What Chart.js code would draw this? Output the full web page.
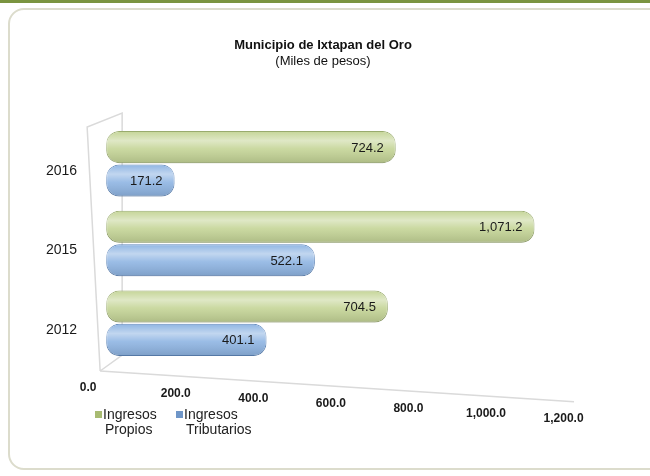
<!DOCTYPE html>
<html>
<head>
<meta charset="utf-8">
<script src="https://cdn.jsdelivr.net/npm/chart.js@4.4.1/dist/chart.umd.min.js"></script>
<style>
  body { margin: 0; background: #fff; font-family: "Liberation Sans", Arial, sans-serif; }
  #wrap { position: relative; width: 650px; height: 476px; overflow: hidden; }
  #band { position: absolute; left: 0; top: 0; width: 650px; height: 3px; background: #7a9440; }
  #box { position: absolute; left: 8px; top: 8px; width: 660px; height: 458px; border: 2px solid #dcdccc; border-radius: 16px; }
  canvas { position: absolute; left: 0; top: 0; }
  .ttl { position: absolute; left: 0; width: 646px; text-align: center; font-size: 13px; color: #111; }
  .leg { position: absolute; top: 407px; font-size: 14px; color: #222; line-height: 15px; }
  .leg i { display: inline-block; width: 7px; height: 7px; margin-right: 1px; vertical-align: 1px; }
  .leg span { display: block; padding-left: 10px; }
</style>
</head>
<body>
<div id="wrap">
  <div id="band"></div>
  <div id="box"></div>
  <canvas id="chart" width="650" height="476"></canvas>
  <div class="ttl" style="top:37px;font-weight:bold">Municipio de Ixtapan del Oro</div>
  <div class="ttl" style="top:53px">(Miles de pesos)</div>
  <div class="leg" style="left:95px"><i style="background:#a8bb72"></i>Ingresos<span>Propios</span></div>
  <div class="leg" style="left:176px"><i style="background:#6f96c8"></i>Ingresos<span>Tributarios</span></div>
</div>
<script>
// data
var years = ['2016', '2015', '2012'];
var propios = [724.2, 1071.2, 704.5];
var tributarios = [171.2, 522.1, 401.1];
var xTicks = [0, 200, 400, 600, 800, 1000, 1200];

function fmt(v) {
    return v.toLocaleString('en-US', { minimumFractionDigits: 1, maximumFractionDigits: 1 });
}

var SLOPE = 0.065;

// shine on the tubes + value labels + 3d-ish frame
var tubePlugin = {
    id: 'tube',
    beforeDatasetsDraw: function(chart) {
        var ctx = chart.ctx;
        var a = chart.chartArea;
        ctx.save();
        ctx.strokeStyle = '#dadada';
        ctx.lineWidth = 1.5;
        ctx.beginPath();
        // front left edge + top edge + back edge
        ctx.moveTo(a.left - 6, a.bottom + 8);
        ctx.lineTo(a.left - 19, a.top + 3);
        ctx.lineTo(a.left + 16, a.top - 11);
        ctx.lineTo(a.left + 16, a.bottom - 8);
        ctx.lineTo(a.left - 6, a.bottom + 8);
        ctx.stroke();
        ctx.restore();
    },
    afterDatasetsDraw: function(chart) {
        var ctx = chart.ctx;
        chart.data.datasets.forEach(function(ds, di) {
            chart.getDatasetMeta(di).data.forEach(function(bar, i) {
                var top = bar.y - bar.height / 2;
                var left = bar.base;
                var w = bar.x - bar.base;
                var h = bar.height;
                var g = ctx.createLinearGradient(0, top, 0, top + h);
                g.addColorStop(0, 'rgba(255,255,255,0)');
                g.addColorStop(0.3, 'rgba(255,255,255,0.45)');
                g.addColorStop(0.55, 'rgba(255,255,255,0.1)');
                g.addColorStop(1, 'rgba(0,0,0,0.12)');
                ctx.save();
                ctx.fillStyle = g;
                ctx.beginPath();
                ctx.roundRect(left, top, w, h, 13);
                ctx.fill();
                ctx.fillStyle = '#1a1a1a';
                ctx.font = '13px "Liberation Sans", Arial, sans-serif';
                ctx.textAlign = 'right';
                ctx.textBaseline = 'middle';
                ctx.fillText(fmt(ds.data[i]), bar.x - 12, bar.y + 1);
                ctx.restore();
            });
        });
    },
    afterDraw: function(chart) {
        // floor edge and x tick labels, slanted like the perspective floor
        var ctx = chart.ctx;
        var sx = chart.scales.x;
        var a = chart.chartArea;
        ctx.save();
        ctx.strokeStyle = '#dadada';
        ctx.lineWidth = 1.5;
        ctx.beginPath();
        ctx.moveTo(sx.left - 6, a.bottom + 8);
        ctx.lineTo(sx.right - 12, a.bottom + 8 + (sx.right - 6 - sx.left) * SLOPE);
        ctx.stroke();
        ctx.fillStyle = '#1a1a1a';
        ctx.font = 'bold 12px "Liberation Sans", Arial, sans-serif';
        ctx.textAlign = 'center';
        ctx.textBaseline = 'top';
        xTicks.forEach(function(t) {
            var px = sx.getPixelForValue(t) - 8 - t * 0.012 - (t === 0 ? 10 : 0);
            var dy = (px - sx.left) * SLOPE;
            ctx.fillText(fmt(t), px, a.bottom + 20 + dy);
        });
        ctx.restore();
    }
};

var ctx = document.getElementById('chart').getContext('2d');
var chart = new Chart(ctx, {
    type: 'bar',
    data: {
        labels: years,
        datasets: [
            {
                label: 'Ingresos Propios',
                data: propios,
                backgroundColor: '#c5d597',
                borderColor: '#97a96a',
                borderWidth: 1,
                borderRadius: 13,
                borderSkipped: false
            },
            {
                label: 'Ingresos Tributarios',
                data: tributarios,
                backgroundColor: '#8fb5e3',
                borderColor: '#5f87bb',
                borderWidth: 1,
                borderRadius: 13,
                borderSkipped: false
            }
        ]
    },
    options: {
        indexAxis: 'y',
        responsive: false,
        animation: false,
        categoryPercentage: 0.84,
        barPercentage: 0.96,
        layout: { padding: { left: 25, right: 64, top: 124, bottom: 105 } },
        plugins: {
            legend: { display: false },
            tooltip: { enabled: false }
        },
        scales: {
            x: {
                min: 0,
                max: 1200,
                ticks: { stepSize: 200, display: false },
                grid: { display: false },
                border: { display: false }
            },
            y: {
                ticks: {
                    color: '#1a1a1a',
                    padding: 21,
                    labelOffset: 7,
                    font: { family: '"Liberation Sans", Arial, sans-serif', size: 14 }
                },
                grid: { display: false },
                border: { display: false }
            }
        }
    },
    plugins: [tubePlugin]
});
</script>
</body>
</html>
